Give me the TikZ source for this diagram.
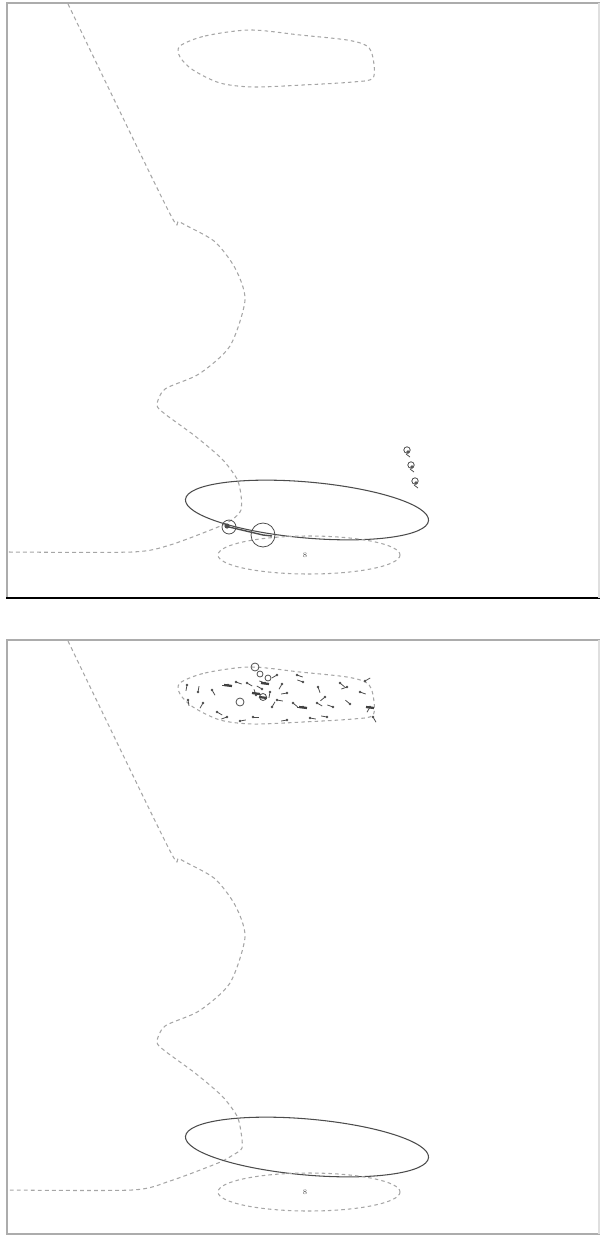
\documentclass[tikz,border=0pt]{standalone}
\usepackage{tikz}
\usetikzlibrary{positioning}

\begin{document}
\begin{tikzpicture}[x=0.02cm, y=-0.02cm,
    traj/.style={gray!70, dash pattern=on 2.2pt off 1.8pt, line width=0.6pt},
    zone/.style={gray!70, dash pattern=on 2pt off 1.8pt, line width=0.6pt},
    rangeline/.style={gray!60!black, line width=0.6pt},
    frameline/.style={gray!65, line width=1.1pt},
    agent/.style={black!70, line width=0.45pt},
    ring/.style={circle, draw=black!70, line width=0.45pt, inner sep=0pt}]
    \useasboundingbox (0,0) rectangle (600,1236);

    % --- 边框 ---
    \draw[frameline] (7,598) -- (7,3) -- (600,3);
    \draw[black, line width=1.4pt] (6,598) -- (600,598);
    \draw[gray!25, line width=0.6pt] (599,3) -- (599,598);
    \draw[frameline] (7,1234) -- (7,640) -- (600,640);
    \draw[frameline] (6,1234) -- (600,1234);
    \draw[gray!25, line width=0.6pt] (599,640) -- (599,1234);

    % --- 上图 ---
    \begin{scope}
        \draw[traj] plot[smooth, tension=0.45] coordinates {(68,4) (168,210) (180,222) (214,241) (235,268) (245,300) (230,346) (199,374) (165,389) (157,405) (165,414) (195,436) (222,459) (237,479) (241,495) (241,510) (233,519) (218,527) (170,545) (132,552) (7,552)};
        \draw[zone] plot[smooth cycle, tension=0.5] coordinates {(180,46) (205,36) (250,30) (300,35) (347,40) (367,46) (373,58) (373,78) (353,82) (303,85) (253,87) (220,83) (193,70) (180,57)};
        \draw[rangeline, rotate around={-5:(307,510)}] (307,510) ellipse[x radius=122, y radius=28];
        \draw[zone] (309,555) ellipse[x radius=91, y radius=19];
        \node[gray!70!black, font=\fontsize{4}{4}\selectfont, inner sep=0pt] (goalA) at (305,555) {8};
        \node[ring, minimum size=0.28cm] (nearA) at (229,527) {};
        \node[ring, minimum size=0.48cm] (farA) at (263,535) {};
        \fill[black!70] (227,526) circle[radius=2.6];
        \draw[agent, line width=0.8pt] (nearA.center) -- (farA.center);
        \draw[agent, line width=0.8pt] (farA.center) -- (272,536);
        \foreach \x/\y in {407/450, 411/465, 415/481} {
            \draw[agent] (\x,\y) circle[radius=3.2];
            \fill[black!65] (\x+1,\y+2) circle[radius=1.8];
            \draw[agent] (\x-1,\y+4) -- (\x+3,\y+7);
        }
    \end{scope}

    % --- 下图 ---
    \begin{scope}[shift={(0,637)}]
        \draw[traj] plot[smooth, tension=0.45] coordinates {(68,4) (168,210) (180,222) (214,241) (235,268) (245,300) (230,346) (199,374) (165,389) (157,405) (165,414) (195,436) (222,459) (237,479) (241,495) (242,511) (233,518) (218,526) (170,544) (132,553) (7,553)};
        \draw[zone] plot[smooth cycle, tension=0.5] coordinates {(180,46) (205,36) (250,30) (300,35) (347,40) (367,46) (373,58) (373,78) (353,82) (303,85) (253,87) (220,83) (193,70) (180,57)};
        \draw[rangeline, rotate around={-5:(307,510)}] (307,510) ellipse[x radius=122, y radius=28];
        \draw[zone] (309,555) ellipse[x radius=91, y radius=19];
        \node[gray!70!black, font=\fontsize{4}{4}\selectfont, inner sep=0pt] (goalB) at (305,555) {8};
        \foreach \x/\y/\a in {228/48/180, 212/53/60, 187/48/100, 188/63/80, 247/46/30,
                265/46/200, 277/38/150, 277/63/10, 287/56/170, 297/38/20, 303/45/200,
                303/70/180, 317/66/30, 325/60/140, 333/70/200, 340/46/40, 347/50/160,
                360/55/20, 370/70/120, 373/80/60, 327/80/190, 310/81/10, 287/83/170,
                253/80/0, 227/80/160, 217/75/30, 203/66/120, 262/52/210, 270/55/100,
                236/45/20, 256/58/250, 272/70/300, 293/66/40, 350/67/220, 365/44/330,
                198/55/280, 240/84/350, 318/50/70, 282/47/120} {
            \draw[agent] (\x,\y) -- ++(\a:6);
            \fill[black!70] (\x,\y) circle[radius=1.4];
        }
        \foreach \x/\y in {228/48, 265/46, 263/60, 303/70, 370/70, 256/56} {
            \draw[black!75, line width=1.3pt] (\x-4,\y) -- (\x+4,\y+1);
        }
        \foreach \x/\y/\r in {255/30/4, 240/65/4, 263/60/3.5, 260/37/3, 268/41/3} {
            \draw[agent] (\x,\y) circle[radius=\r];
        }
    \end{scope}
\end{tikzpicture}
\end{document}
